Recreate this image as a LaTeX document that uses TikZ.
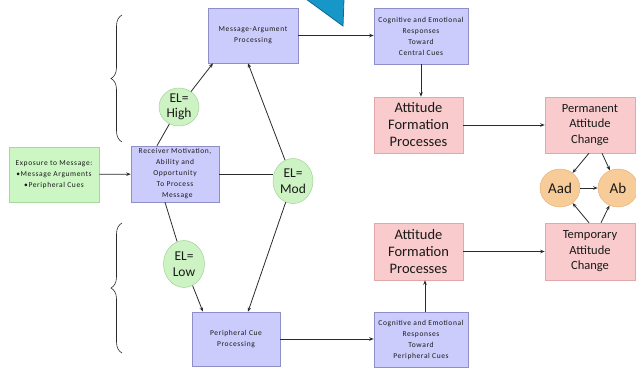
\documentclass[tikz,border=0pt]{standalone}
\usepackage{fontspec}
\setmainfont{Carlito}
\newfontfamily\smf[LetterSpace=8]{Carlito}
\usetikzlibrary{arrows.meta,shadows,decorations.pathreplacing,shapes.geometric}
\definecolor{lav}{HTML}{CCCCFC}
\definecolor{lavd}{HTML}{8F8FC8}
\definecolor{pinkf}{HTML}{F9CBCC}
\definecolor{pinkd}{HTML}{E0A8A8}
\definecolor{grnf}{HTML}{CCF7C5}
\definecolor{grnd}{HTML}{A6D89E}
\definecolor{cgrn}{HTML}{CDF2C3}
\definecolor{cgrnd}{HTML}{A3D397}
\definecolor{orf}{HTML}{F8CC98}
\definecolor{ord}{HTML}{E6B27A}
\definecolor{bluef}{HTML}{1797C8}
\definecolor{blued}{HTML}{0B6A96}
\definecolor{ln}{HTML}{2A2A2A}
\tikzset{
  sh/.style={drop shadow={shadow xshift=1.2pt,shadow yshift=-1.2pt,opacity=0.3,fill=black!60}},
  smalltxt/.style={font=\fontsize{7.5}{11}\smf, text=black!90},
  lavbox/.style={rectangle, fill=lav, draw=lavd, line width=0.5pt, sh, smalltxt, align=center, inner sep=0pt},
  pinkbox/.style={rectangle, fill=pinkf, draw=pinkd, line width=0.5pt, sh, align=center, inner sep=0pt, text=black!90},
  grnbox/.style={rectangle, fill=grnf, draw=grnd, line width=0.5pt, sh, smalltxt, align=center, inner sep=0pt},
  elcirc/.style={ellipse, fill=cgrn, draw=cgrnd, line width=0.5pt, align=center, inner sep=0pt, font=\fontsize{13.5}{15.5}\selectfont, text=black!90},
  orcirc/.style={ellipse, fill=orf, draw=ord, line width=0.5pt, inner sep=0pt, minimum width=40pt, minimum height=38pt, font=\fontsize{15}{17}\selectfont, text=black!90},
  conn/.style={draw=ln, line width=0.8pt},
  arr/.style={conn, -{Stealth[length=4.5pt,width=3.5pt]}},
  brc/.style={draw=ln, line width=0.6pt, decorate, decoration={brace, amplitude=11pt}}
}
\begin{document}
\begin{tikzpicture}[x=1pt,y=-1pt]
\useasboundingbox (0,0) rectangle (636,367);
% blue triangle
\filldraw[fill=bluef, draw=blued, line width=0.8pt] (306,-1) -- (344,-1) -- (343,26) -- cycle;
% braces
\coordinate (b1s) at (122,142);
\coordinate (b1e) at (122,15);
\coordinate (b2s) at (122,353);
\coordinate (b2e) at (122,223);
\draw[brc] (b1s) -- (b1e);
\draw[brc] (b2s) -- (b2e);
% nodes
\node[grnbox, minimum width=90pt, minimum height=55pt] (exp) at (54,174.5)
  {Exposure to Message:\\•Message Arguments\\•Peripheral Cues};
\node[lavbox, minimum width=88pt, minimum height=56pt] (rec) at (175,174)
  {Receiver Motivation,\\Ability and\\Opportunity\\To Process\\\ \ Message};
\node[lavbox, minimum width=90pt, minimum height=55pt] (msg) at (253,35.5)
  {Message-Argument\\Processing};
\node[lavbox, minimum width=88pt, minimum height=54pt] (per) at (236,339)
  {Peripheral Cue\\Processing};
\node[lavbox, minimum width=94pt, minimum height=56pt] (cogc) at (421,36)
  {Cognitive and Emotional\\Responses\\Toward\\Central Cues};
\node[lavbox, minimum width=94pt, minimum height=55pt] (cogp) at (421,339.5)
  {Cognitive and Emotional\\Responses\\Toward\\Peripheral Cues};
\node[pinkbox, minimum width=89pt, minimum height=56pt, font=\fontsize{14.5}{17}\selectfont] (aft) at (418.5,125)
  {Attitude\\Formation\\Processes};
\node[pinkbox, minimum width=89pt, minimum height=57pt, font=\fontsize{14.5}{17}\selectfont] (afb) at (418.5,251.5)
  {Attitude\\Formation\\Processes};
\node[pinkbox, minimum width=90pt, minimum height=56pt, font=\fontsize{12.5}{15.5}\selectfont] (perm) at (590,125)
  {Permanent\\Attitude\\Change};
\node[pinkbox, minimum width=90pt, minimum height=57pt, font=\fontsize{12.5}{15.5}\selectfont] (temp) at (590,251.5)
  {Temporary\\Attitude\\Change};
\node[elcirc, minimum width=40pt, minimum height=38pt] (high) at (179,107) {EL=\\High};
\node[elcirc, minimum width=40pt, minimum height=45pt] (mod) at (293,181) {EL=\\Mod};
\node[elcirc, minimum width=41pt, minimum height=47pt] (low) at (184,264) {EL=\\Low};
\node[orcirc] (aad) at (560,188) {Aad};
\node[orcirc] (ab) at (618,188) {Ab};
% connectors
\draw[arr] (exp) -- (rec);
\draw[conn] ([xshift=-18pt]rec.north) -- (high);
\draw[arr] (high) -- ([xshift=-40pt]msg.south);
\draw[conn] (rec.east) -- (rec.east -| mod.west);
\draw[arr] (mod) -- ([xshift=-5pt]msg.south);
\draw[conn] ([xshift=-10pt]rec.south) -- (low);
\draw[arr] (low) -- ([xshift=-33pt]per.north);
\draw[arr] (mod) -- ([xshift=12pt]per.north);
\draw[arr] (msg.east) -- (msg.east -| cogc.west);
\draw[arr] (cogc.south) -- (cogc.south |- aft.north);
\draw[arr] (aft) -- (perm);
\draw[arr] ([xshift=-1pt]perm.south) -- (aad);
\draw[arr] ([xshift=12pt]perm.south) -- (ab);
\draw[arr] (aad) -- (ab);
\draw[arr] ([xshift=-1pt]temp.north) -- (aad);
\draw[arr] ([xshift=11pt]temp.north) -- (ab);
\draw[arr] (afb) -- (temp);
\draw[arr] ([xshift=4pt]cogp.north) -- ([xshift=4pt]cogp.north |- afb.south);
\draw[arr] (per.east) -- (per.east -| cogp.west);
\end{tikzpicture}
\end{document}
